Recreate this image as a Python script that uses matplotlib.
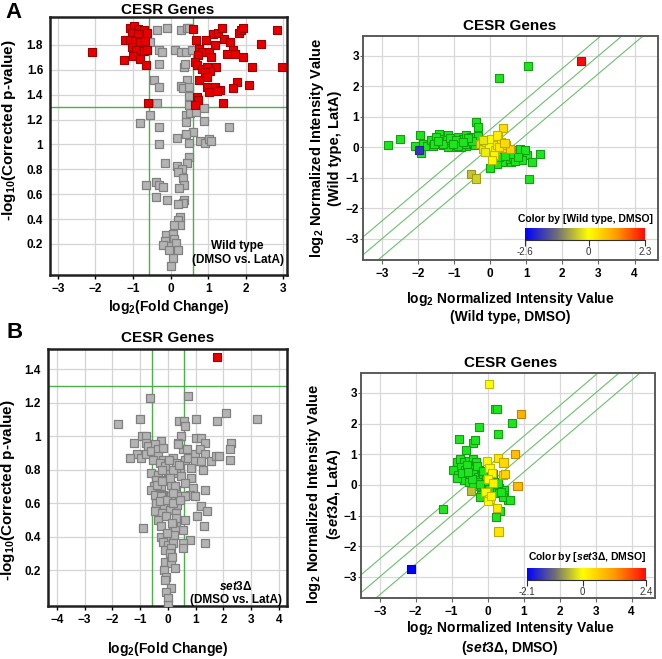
import numpy as np
import matplotlib
matplotlib.use('Agg')
import matplotlib.pyplot as plt
from matplotlib.colors import LinearSegmentedColormap, Normalize

plt.rcParams['font.family'] = ['Liberation Sans', 'DejaVu Sans']
plt.rcParams['mathtext.fontset'] = 'custom'
plt.rcParams['mathtext.rm'] = 'Liberation Sans:bold'
plt.rcParams['mathtext.bf'] = 'Liberation Sans:bold'
plt.rcParams['mathtext.it'] = 'Liberation Sans:italic:bold'
plt.rcParams['mathtext.default'] = 'rm'

# ---- Panel A, volcano (wild type) ----
a_red_x = [-1.08, -0.97, -0.88, -0.71, -1.04, -0.86, -0.64, -1.21, -1.08, -0.95, -0.81, -0.68,
           -1.04, -0.92, -0.72, -0.64, -2.08, -1.24, -1.01, -0.81, -0.65, -0.61,
           0.61, 1.14, 1.25, 1.37, 1.43, 1.57, 1.81, 1.87, 1.94, 2.83, 0.68, 0.95, 1.19, 2.40,
           0.76, 0.83, 1.01, 0.74, 1.66, 1.50, 1.72, 1.94, 1.07, 0.65, 0.70, 0.83, 0.98, 1.21,
           1.05, 2.17, 2.97, 0.92, 0.97, 0.76, 1.78, 2.09, 0.97, 1.19, 1.66, 1.32, 1.01, 1.23,
           0.70, 0.74, 0.64, 1.39]
a_red_y = [1.94, 1.95, 1.93, 1.92, 1.90, 1.89, 1.90, 1.84, 1.84, 1.83, 1.82, 1.83,
           1.78, 1.76, 1.75, 1.76, 1.74, 1.68, 1.71, 1.69, 1.64, 1.33,
           1.93, 1.89, 1.90, 1.94, 1.85, 1.82, 1.90, 1.92, 1.94, 1.92, 1.84, 1.84, 1.80, 1.81,
           1.77, 1.74, 1.74, 1.72, 1.76, 1.73, 1.73, 1.70, 1.70, 1.66, 1.64, 1.61, 1.62, 1.62,
           1.59, 1.62, 1.62, 1.58, 1.54, 1.52, 1.50, 1.48, 1.46, 1.46, 1.45, 1.44, 1.42, 1.43,
           1.38, 1.36, 1.32, 1.33]
a_gray_x = [-0.35, -0.10, 0.27, 0.43, 0.50, -0.55, -0.30, -0.24, 0.12, 0.27, 0.41, 0.57,
            -0.32, 0.36, 0.39, -0.44, -0.32, 0.43, 0.28, 0.34, 0.48, 0.48, -0.37, 0.50,
            -0.55, 0.41, 0.52, 0.67, 0.89, 0.90, 0.41, -0.81, -0.32, 1.56,
            0.61, 0.17, 0.41, -0.32, 0.50, 0.79, 0.92, 1.01, 1.08, 0.50, 0.45, -0.15,
            0.17, 0.30, 0.19, 0.33, -0.65, -0.39, -0.30, -0.19, 0.37, 0.23, -0.39, -0.10,
            0.37, 0.33, 0.21, 0.24, 0.19, 0.25, 0.09, -0.12, 0.06, -0.15, 0.08, -0.03,
            0.15, -0.19, 0.21, -0.03, 0.06, 0.01]
a_gray_y = [1.92, 1.94, 1.92, 1.94, 1.94, 1.82, 1.76, 1.74, 1.76, 1.74, 1.74, 1.76,
            1.65, 1.62, 1.65, 1.52, 1.46, 1.52, 1.47, 1.45, 1.46, 1.39, 1.33, 1.32,
            1.24, 1.24, 1.25, 1.26, 1.29, 1.19, 1.18, 1.17, 1.14, 1.14,
            1.10, 1.05, 1.08, 1.00, 1.01, 1.03, 1.01, 1.04, 1.03, 0.90, 0.85, 0.85,
            0.83, 0.80, 0.78, 0.73, 0.67, 0.70, 0.67, 0.66, 0.67, 0.65, 0.58, 0.55,
            0.55, 0.53, 0.52, 0.42, 0.39, 0.35, 0.35, 0.27, 0.28, 0.22, 0.24, 0.18,
            0.21, 0.19, 0.15, 0.15, 0.09, 0.02]

# ---- Panel A, scatter (wild type, DMSO vs LatA) ----
a_mark_x = [-2.83, -2.49, -2.07, -1.94, -1.86, -1.91, -1.75, -1.63, -1.58, -1.42, -1.35, -1.31,
            -1.17, -1.10, -1.03, -0.89, -0.84, -0.75, -0.66, -0.58, -0.52, -0.43, -0.33,
            -1.17, -0.94, -0.66, -1.49, -1.26, -1.40, -1.20, -0.98, -0.80, -0.62, -1.55,
            -1.30, -1.12, -0.95, -0.70, -0.50, -1.45, -0.88, -0.60, -1.02, -0.75,
            -0.40, -0.33, 0.26, 1.06,
            0.36, 0.55, 0.69, 0.82, 0.92, 1.01, 0.73, 0.59, 0.45, 0.32, 0.18, -0.01,
            1.15, 1.38, 1.07, 0.82, 0.96, 0.64, 0.87, 0.50, 0.70, 0.25, 0.60, 0.78, 0.40]
a_mark_y = [0.07, 0.28, 0.03, 0.39, 0.12, -0.19, 0.03, 0.23, 0.03, 0.45, 0.28, 0.07,
            0.39, 0.23, 0.01, 0.34, 0.12, 0.28, 0.39, 0.17, 0.34, 0.07, 0.36,
            0.01, 0.07, 0.03, 0.34, 0.17, 0.15, 0.25, 0.20, 0.00, 0.22, 0.12,
            0.10, 0.30, 0.25, 0.10, 0.20, 0.20, 0.05, 0.30, 0.12, 0.18,
            0.83, 0.68, 2.29, 2.67,
            -0.26, -0.15, -0.10, -0.21, -0.15, -0.26, -0.42, -0.48, -0.37, -0.48, -0.53, -0.66,
            -0.48, -0.23, -1.05, -0.04, -0.08, -0.32, -0.40, -0.10, -0.45, -0.30, -0.22, -0.33, -0.28]
a_col_x = [-0.29, -0.20, -0.10, -0.03, 0.04, 0.13, 0.18, 0.22, 0.29, 0.36, 0.10, 0.45,
           0.55, -0.15, 0.35, 0.19, -0.20, 0.05, 0.25, 0.40,
           -0.52, -0.40, -1.97, 2.52]
a_col_y = [0.12, -0.04, 0.17, 0.01, 0.28, -0.10, 0.07, 0.39, 0.17, -0.01, -0.26, 0.07,
           -0.04, -0.15, 0.64, 0.39, 0.25, -0.42, 0.00, 0.15,
           -0.86, -1.02, -0.10, 2.84]

# ---- Panel B, volcano (set3 deletion) ----
b_red_x = [1.78]
b_red_y = [1.47]
b_gray_x = [-0.65, 0.72, -1.80, -1.02, 0.40, 0.57, 0.60, 1.02, 1.77, 2.10, 3.22, 0.48,
            -0.94, -0.78, -1.23, -0.78, -0.24, -0.72, -0.48, 0.36, 1.00, 1.20, 1.32, 2.28,
            2.22, -1.11, -1.35, -0.96, -0.78, -0.60, -0.36, -0.18, -0.34, -0.54, -0.18,
            0.18, 0.30, 0.54, 0.60, 0.72, 0.96, 1.14, 1.32, 1.54, 1.74, 1.83, 2.22, 0.96,
            0.42, 0.84, 1.20, 1.26, -0.60, -0.36, 0.00, 0.30, -0.42, -0.12, 0.48, 0.82,
            0.60, -0.50, -0.24, 0.12, 0.30, 0.90, 1.32, -0.60, -0.18, 0.06, 0.54, 0.78,
            -0.48, -0.24, 0.12, 0.42, 0.60, 0.96, -0.42, -0.14, 0.12, 0.34, 1.20, -0.48,
            -0.22, 0.06, 0.30, 1.42, 1.06, -0.90, 0.60, 0.30, 0.18, 1.30, 0.54, 0.24,
            -0.24, 0.06, 0.22, 0.78, 0.54, 1.32, -0.18, 0.00, 0.18, -0.12, 0.10, 0.54,
            0.06, -0.10, 0.12, 0.24, -0.14, -0.06, -0.10, 0.10, -0.06, 0.00, 0.02,
            -0.30, -0.12, 0.20, 0.40, -0.40, -0.20, 0.08, 0.24, -0.30, -0.02, 0.18, 0.44,
            -0.36, -0.08, 0.28, -0.26, 0.14, -0.20, 0.04, 0.20, -0.04, 0.14, 0.70, 0.36]
b_gray_y = [1.23, 1.24, 1.07, 1.10, 1.09, 1.09, 1.06, 1.10, 1.09, 1.14, 1.10, 1.00,
            1.00, 1.00, 0.96, 0.96, 0.97, 0.94, 0.95, 0.96, 0.99, 0.99, 0.96, 0.96,
            0.92, 0.89, 0.87, 0.87, 0.89, 0.91, 0.92, 0.93, 0.88, 0.86, 0.86,
            0.87, 0.84, 0.92, 0.86, 0.87, 0.89, 0.92, 0.89, 0.85, 0.88, 0.88, 0.86, 0.85,
            0.81, 0.81, 0.85, 0.80, 0.78, 0.77, 0.79, 0.78, 0.74, 0.74, 0.76, 0.75,
            0.72, 0.70, 0.70, 0.71, 0.68, 0.69, 0.68, 0.68, 0.65, 0.64, 0.64, 0.65,
            0.65, 0.64, 0.64, 0.64, 0.64, 0.64, 0.60, 0.59, 0.58, 0.59, 0.58, 0.55,
            0.54, 0.56, 0.54, 0.55, 0.52, 0.45, 0.50, 0.48, 0.46, 0.46, 0.44, 0.44,
            0.40, 0.40, 0.41, 0.38, 0.36, 0.36, 0.37, 0.35, 0.36, 0.32, 0.33, 0.33,
            0.30, 0.25, 0.24, 0.21, 0.20, 0.16, 0.14, 0.09, 0.07, 0.03, -0.01,
            0.84, 0.82, 0.80, 0.83, 0.71, 0.73, 0.75, 0.70, 0.61, 0.62, 0.60, 0.62,
            0.50, 0.52, 0.51, 0.46, 0.48, 0.80, 0.86, 0.66, 0.42, 0.28, 0.92, 0.95]

# ---- Panel B, scatter (set3 deletion, DMSO vs LatA) ----
b_mark_x = [0.19, 0.26, 0.68, -0.23, 0.28, -0.81, -0.42, -0.34, -0.60, -0.86,
            -0.78, -0.65, -0.51, -0.42, -0.32, -0.74, -0.62, -0.49, -0.37, -0.25, -0.95,
            -0.83, -0.69, -0.55, -0.42, -0.28, -0.16, -0.65, -0.51, -0.34, -0.21, -0.06,
            0.14, 0.19, 0.00, 0.09, 0.23, 0.32, 0.44, 0.19, 0.32, 0.46, 0.56, 0.42,
            -0.18, -0.21, -0.32, -0.42, -0.86, -0.09, -1.25, 0.34, 0.23, 0.62,
            -0.72, -0.58, -0.44, -0.30, -0.12, 0.05, 0.28, 0.38, -0.56, -0.20]
b_mark_y = [2.47, 2.48, 2.03, 1.90, 1.65, 1.50, 1.38, 1.45, 1.14, 0.76,
            0.84, 0.76, 0.79, 0.84, 0.76, 0.58, 0.49, 0.54, 0.51, 0.47, 0.47,
            0.33, 0.29, 0.27, 0.36, 0.27, 0.33, 0.16, 0.11, 0.16, 0.11, 0.19,
            0.36, 0.11, 0.00, -0.11, -0.05, -0.11, -0.16, -0.22, -0.27, -0.33, -0.49, -0.40,
            -0.33, -0.40, -0.03, -0.05, 0.21, -0.03, -0.79, -0.85, -1.05, -0.49,
            0.40, 0.65, 0.20, 0.62, 0.45, -0.15, 0.05, -0.22, 0.42, 0.02]
b_col_x = [0.03, 0.92, 0.77, 0.28, 0.44, -0.03, 0.42, 0.83, -0.46, -0.06, 0.05, 0.00,
           0.25, 0.30, -2.12, 0.05, 0.12, 0.02, 0.15, 0.10, 0.48]
b_col_y = [3.29, 2.32, 1.00, 0.87, 0.73, 0.79, 0.33, -0.03, -0.20, -0.22, -0.47, -0.54,
           -0.74, -1.52, -2.75, 0.55, 0.40, 0.20, 0.05, -0.35, 0.35]

W, H = 662, 659
fig = plt.figure(figsize=(W / 100, H / 100), dpi=100)


def box(l, t, r, b):
    return [l / W, 1 - b / H, (r - l) / W, (b - t) / H]


def ftext(x, y, s, **kw):
    fig.text(x / W, 1 - y / H, s, **kw)


def make_cmap(lo, hi):
    z = -lo / (hi - lo)
    nodes = [(0.0, '#0000ff'), (z * 0.5, '#6e6e78'), (z, '#ffff00'),
             (z + (1 - z) * 0.5, '#ff9a00'), (1.0, '#ff0a0a')]
    return LinearSegmentedColormap.from_list('cb', nodes)


def volcano(rect, gx, gy, rx, ry, xlim, ylim, xticks, yticks, xlab_top, ylab_right, ylab_mid):
    ax = fig.add_axes(rect)
    ax.scatter(gx, gy, s=34, marker='s', c='#b4b4b4', edgecolors='#808080', linewidths=0.9, zorder=3)
    ax.scatter(rx, ry, s=34, marker='s', c='#e60000', edgecolors='#a00000', linewidths=0.8, zorder=4)
    ax.set_xlim(*xlim)
    ax.set_ylim(*ylim)
    ax.set_xticks(xticks)
    ax.set_yticks(yticks)
    ax.set_yticklabels([f'{v:g}' for v in yticks])
    ax.grid(True, color='#d4d4d4', lw=0.9, zorder=0)
    ax.axhline(1.3, color='#4caf4c', lw=1.0, zorder=2)
    for v in (-0.585, 0.585):
        ax.axvline(v, color='#4caf4c', lw=1.0, zorder=2)
    for s in ax.spines.values():
        s.set_color('#202020')
        s.set_linewidth(1.8)
    ax.tick_params(axis='x', length=3, width=1, labelsize=8.5, pad=3)
    ax.tick_params(axis='y', length=0, labelsize=8.5, pad=5)
    for lab in ax.get_xticklabels() + ax.get_yticklabels():
        lab.set_fontweight('bold')
    ax.set_xlabel(r'log$_{2}$(Fold Change)', fontsize=10, fontweight='bold')
    ax.set_ylabel(r'-log$_{10}$(Corrected p-value)', fontsize=11, fontweight='bold')
    # label coords are the label's inner edge (top of xlabel, right of ylabel)
    l, b, w, h = rect
    ax.xaxis.set_label_coords(0.5, (1 - xlab_top / H - b) / h)
    ax.yaxis.set_label_coords((ylab_right / W - l) / w, (1 - ylab_mid / H - b) / h)
    return ax


def scatter(rect, mx, my, cx, cy, lo, hi):
    ax = fig.add_axes(rect)
    cmap = make_cmap(lo, hi)
    norm = Normalize(lo, hi)
    xs = np.linspace(-5, 6, 2)
    for off in (0.585, 0.0, -0.585):
        ax.plot(xs, xs + off, color='#6cbf6c', lw=0.8, zorder=2)
    ax.scatter(mx, my, s=34, marker='s', c='#1ee61e', edgecolors='#12a012', linewidths=0.8, zorder=3)
    fc = cmap(norm(np.clip(cx, lo, hi)))
    ec = fc.copy()
    ec[:, :3] *= 0.75
    ax.scatter(cx, cy, s=34, marker='s', c=fc, edgecolors=ec, linewidths=0.8, zorder=4)
    ax.set_xlim(-3.52, 4.65)
    ax.set_ylim(-3.69, 3.65)
    ax.set_xticks(range(-3, 5))
    ax.set_yticks(range(-3, 4))
    ax.grid(True, color='#d8d8d8', lw=0.9, zorder=0)
    for s in ax.spines.values():
        s.set_color('#5a5a5a')
        s.set_linewidth(1.4)
    ax.tick_params(axis='x', length=3, width=0.8, color='#666666', labelsize=8.5, pad=3)
    ax.tick_params(axis='y', length=2, width=0.8, color='#666666', labelsize=8.5, pad=1)
    for lab in ax.get_xticklabels() + ax.get_yticklabels():
        lab.set_fontweight('bold')
    return ax, cmap


def colorbar(rect, cmap, lo, hi):
    cax = fig.add_axes(rect)
    cax.imshow(np.linspace(lo, hi, 256)[None, :], aspect='auto', cmap=cmap,
               extent=[lo, hi, 0, 1])
    cax.set_xlim(lo, hi)
    cax.set_yticks([])
    cax.set_xticks([lo, 0, hi])
    cax.set_xticklabels([f'{lo:g}', '0', f'{hi:g}'])
    for k in ('top', 'left', 'right'):
        cax.spines[k].set_visible(False)
    cax.spines['bottom'].set_color('#303030')
    cax.spines['bottom'].set_linewidth(0.8)
    cax.tick_params(axis='x', length=4, width=0.8, color='#303030', labelsize=7, pad=1,
                    labelcolor='#333333')


# Panel A
volcano(box(50, 17, 287, 275), a_gray_x, a_gray_y, a_red_x, a_red_y,
        (-3.21, 3.1), (-0.05, 2.025), range(-3, 4), [0.2, 0.4, 0.6, 0.8, 1.0, 1.2, 1.4, 1.6, 1.8],
        298, 18, 130)
ftext(168, 10, 'CESR Genes', fontsize=11, fontweight='bold', ha='center', va='center')
ftext(237, 246, 'Wild type', fontsize=8.5, fontweight='bold', ha='center', va='center')
ftext(238, 260, '(DMSO vs. LatA)', fontsize=8.5, fontweight='bold', ha='center', va='center')
ftext(14, 12, 'A', fontsize=16, fontweight='bold', ha='center', va='center')

axA, cmA = scatter(box(363, 36, 658, 260), a_mark_x, a_mark_y, a_col_x, a_col_y, -2.6, 2.3)
ftext(510, 26, 'CESR Genes', fontsize=11, fontweight='bold', ha='center', va='center')
ftext(325, 148, 'log$_2$ Normalized Intensity Value\n(Wild type, LatA)', fontsize=10.5,
      fontweight='bold', ha='center', va='center', rotation=90, linespacing=1.1)
ftext(510, 307, 'log$_2$ Normalized Intensity Value\n(Wild type, DMSO)', fontsize=10,
      fontweight='bold', ha='center', va='center', linespacing=1.2)
colorbar(box(525, 228, 645, 240), cmA, -2.6, 2.3)
ftext(585, 219, 'Color by [Wild type, DMSO]', fontsize=7.5, fontweight='bold',
      ha='center', va='center')

# Panel B
volcano(box(48, 349, 287, 606), b_gray_x, b_gray_y, b_red_x, b_red_y,
        (-4.32, 4.29), (-0.015, 1.52), range(-4, 5), [0.2, 0.4, 0.6, 0.8, 1.0, 1.2, 1.4],
        640, 17, 490)
ftext(168, 338, 'CESR Genes', fontsize=11, fontweight='bold', ha='center', va='center')
ftext(236, 587, r'$\mathit{set3}$Δ', fontsize=8.5, fontweight='bold', ha='center', va='center')
ftext(236, 600, '(DMSO vs. LatA)', fontsize=8.5, fontweight='bold', ha='center', va='center')
ftext(15, 333, 'B', fontsize=16, fontweight='bold', ha='center', va='center')

axB, cmB = scatter(box(361, 373, 655, 598), b_mark_x, b_mark_y, b_col_x, b_col_y, -2.1, 2.4)
ftext(511, 363, 'CESR Genes', fontsize=11, fontweight='bold', ha='center', va='center')
ftext(324, 494, 'log$_2$ Normalized Intensity Value\n($\\mathit{set3}$Δ, LatA)', fontsize=10.5,
      fontweight='bold', ha='center', va='center', rotation=90, linespacing=1.1)
ftext(510, 638, 'log$_2$ Normalized Intensity Value\n($\\mathit{set3}$Δ, DMSO)', fontsize=10,
      fontweight='bold', ha='center', va='center', linespacing=1.2)
colorbar(box(527, 568, 646, 580), cmB, -2.1, 2.4)
ftext(587, 557, r'Color by [$\mathit{set3}$Δ, DMSO]', fontsize=7.5, fontweight='bold',
      ha='center', va='center')

fig.savefig('out.png', dpi=100)
